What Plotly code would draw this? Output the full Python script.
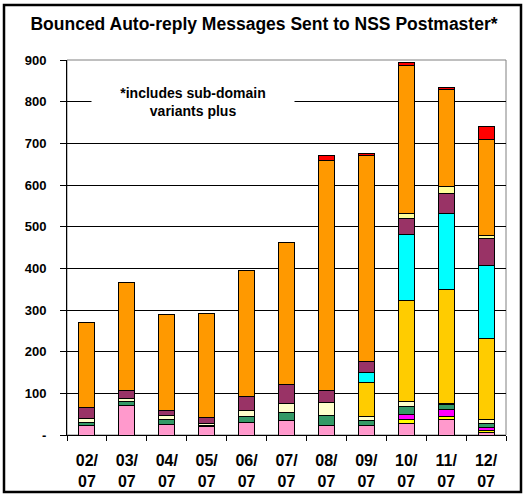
import plotly.graph_objects as go

months = ["02/<br>07", "03/<br>07", "04/<br>07", "05/<br>07", "06/<br>07", "07/<br>07",
          "08/<br>07", "09/<br>07", "10/<br>07", "11/<br>07", "12/<br>07"]

pink = [23, 70, 26, 20, 30, 34, 22, 22, 28, 38, 5]
yellow = [0, 0, 0, 0, 0, 0, 0, 0, 10, 7, 6]
magenta = [0, 0, 0, 0, 0, 0, 0, 0, 12, 16, 7]
green = [6, 10, 12, 4, 14, 20, 26, 13, 19, 13, 10]
light_yellow = [10, 8, 8, 4, 14, 21, 30, 9, 11, 2, 9]
gold = [0, 0, 0, 0, 0, 0, 0, 81, 244, 274, 195]
cyan = [0, 0, 0, 0, 0, 0, 0, 24, 157, 182, 176]
purple = [26, 19, 12, 14, 34, 47, 30, 28, 39, 48, 64]
light_yellow2 = [0, 0, 0, 0, 0, 0, 0, 0, 12, 16, 8]
orange = [204, 259, 232, 250, 302, 341, 552, 495, 356, 234, 230]
red = [0, 0, 0, 0, 0, 0, 10, 3, 5, 4, 30]

series = [
    ("pink", pink, "#FF99CC"),
    ("yellow", yellow, "#FFFF00"),
    ("magenta", magenta, "#FF00FF"),
    ("green", green, "#339966"),
    ("light yellow", light_yellow, "#FFFFCC"),
    ("gold", gold, "#FFCC00"),
    ("cyan", cyan, "#00FFFF"),
    ("purple", purple, "#993366"),
    ("light yellow 2", light_yellow2, "#FFFF99"),
    ("orange", orange, "#FF9900"),
    ("red", red, "#FF0000"),
]

FONT = "Arial, Liberation Sans, sans-serif"

fig = go.Figure()
for name, vals, col in series:
    fig.add_trace(go.Bar(
        x=months, y=[v if v else None for v in vals], name=name,
        marker=dict(color=col, line=dict(color="black", width=1)),
        showlegend=False,
    ))

W, H = 528, 497
L, R, T, B = 67, 22, 60, 62
pw, ph = W - L - R, H - T - B

fig.update_layout(
    width=W, height=H,
    margin=dict(l=L, r=R, t=T, b=B, autoexpand=False),
    barmode="stack", bargap=0.6,
    plot_bgcolor="white", paper_bgcolor="white",
    font=dict(family=FONT, color="black"),
    title=dict(text="<b>Bounced Auto-reply Messages Sent to NSS Postmaster*</b>",
               x=0.5, xanchor="center", y=1 - 24 / H, yanchor="middle",
               font=dict(size=17.5, family=FONT, color="black")),
)
fig.update_xaxes(
    automargin=False,
    showline=True, linecolor="black", linewidth=1,
    ticks="outside", tickson="boundaries", ticklen=5, tickcolor="black",
    tickfont=dict(size=16, family=FONT, weight="bold"),
    ticklabelstandoff=11,
    showgrid=False,
)
fig.update_yaxes(
    automargin=False,
    range=[0, 900], tickvals=[0, 100, 200, 300, 400, 500, 600, 700, 800, 900],
    ticktext=["-", "100", "200", "300", "400", "500", "600", "700", "800", "900"],
    showline=True, linecolor="black", linewidth=1,
    ticks="outside", ticklen=6, tickcolor="black",
    tickfont=dict(size=13, family=FONT, weight="bold"),
    ticklabelstandoff=11,
    showgrid=True, gridcolor="black", gridwidth=1, zeroline=False,
)

# plot area border (gray)
fig.add_shape(type="rect", xref="paper", yref="paper", x0=0, x1=1, y0=0, y1=1,
              line=dict(color="#808080", width=1), layer="below")
# outer chart border
fig.add_shape(type="rect", xref="paper", yref="paper",
              x0=(4 - L) / pw, x1=(521 - L) / pw,
              y0=(H - 492 - B) / ph, y1=(H - 5 - B) / ph,
              line=dict(color="black", width=2.5))

fig.add_annotation(
    text="<b>*includes sub-domain<br>variants plus</b>",
    xref="paper", yref="y", x=(193 - L) / pw, y=800,
    xanchor="center", yanchor="middle", showarrow=False,
    bgcolor="white", width=200, height=36,
    font=dict(size=14, family=FONT, color="black"),
)

fig.write_html("out.html", config={"displayModeBar": False},
               post_script="document.body.style.margin='0';")
